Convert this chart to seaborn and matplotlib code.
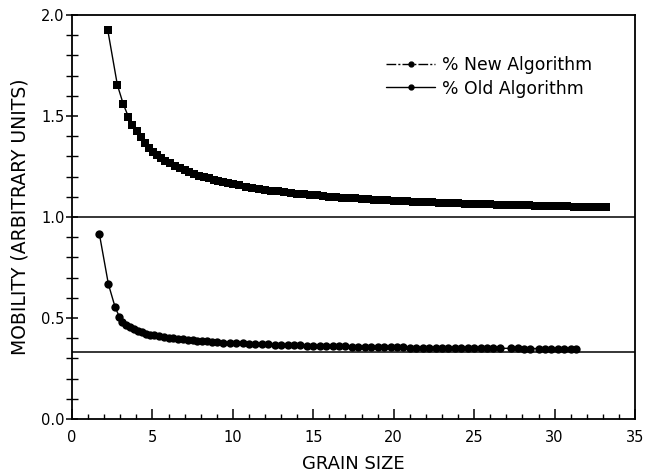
import numpy as np
import pandas as pd
import matplotlib
matplotlib.use("Agg")
import matplotlib.pyplot as plt
from matplotlib.lines import Line2D
from matplotlib.ticker import MultipleLocator, FormatStrFormatter
import seaborn as sns

# ---- data ----
new_x = [2.22, 2.82, 3.19, 3.50, 3.75, 4.02, 4.29, 4.55, 4.8, 5.05, 5.3, 5.55, 5.8,
         6.1, 6.4, 6.7, 7.0, 7.3, 7.6, 7.9, 8.2, 8.5, 8.8, 9.1, 9.4, 9.7, 10.0,
         10.4, 10.8, 11.2, 11.6, 12.0, 12.4, 12.8, 13.2, 13.6, 14.0, 14.4, 14.8,
         15.2, 15.6, 16.0, 16.4, 16.8, 17.2, 17.6, 18.0, 18.4, 18.8, 19.2, 19.6,
         20.0, 20.4, 20.8, 21.2, 21.6, 22.0, 22.4, 22.8, 23.2, 23.6, 24.0, 24.4,
         24.8, 25.2, 25.6, 26.0, 26.4, 26.8, 27.2, 27.6, 28.0, 28.4, 28.8, 29.2,
         29.6, 30.0, 30.4, 30.8, 31.2, 31.6, 32.0, 32.4, 32.8, 33.2]
new_y = [1.926, 1.653, 1.558, 1.497, 1.455, 1.427, 1.396, 1.368, 1.342, 1.323, 1.306,
         1.292, 1.279, 1.266, 1.253, 1.242, 1.231, 1.222, 1.213, 1.205, 1.198, 1.191,
         1.184, 1.178, 1.172, 1.167, 1.162, 1.156, 1.150, 1.145, 1.140, 1.135, 1.131,
         1.127, 1.123, 1.119, 1.116, 1.113, 1.109, 1.107, 1.104, 1.101, 1.099, 1.096,
         1.094, 1.092, 1.090, 1.088, 1.086, 1.084, 1.083, 1.081, 1.079, 1.078, 1.076,
         1.075, 1.074, 1.072, 1.071, 1.070, 1.069, 1.068, 1.066, 1.065, 1.064, 1.063,
         1.062, 1.061, 1.060, 1.060, 1.059, 1.058, 1.057, 1.056, 1.055, 1.055, 1.054,
         1.053, 1.053, 1.052, 1.051, 1.051, 1.050, 1.049, 1.049]

old_x = [1.70, 2.26, 2.67, 2.94, 3.10, 3.35, 3.6, 3.85, 4.1, 4.35, 4.6, 4.85, 5.1,
         5.4, 5.7, 6.0, 6.3, 6.6, 6.9, 7.2, 7.5, 7.8, 8.1, 8.4, 8.7, 9.0, 9.4, 9.8,
         10.2, 10.6, 11.0, 11.4, 11.8, 12.2, 12.6, 13.0, 13.4, 13.8, 14.2, 14.6,
         15.0, 15.4, 15.8, 16.2, 16.6, 17.0, 17.4, 17.8, 18.2, 18.6, 19.0, 19.4,
         19.8, 20.2, 20.6, 21.0, 21.4, 21.8, 22.2, 22.6, 23.0, 23.4, 23.8, 24.2,
         24.6, 25.0, 25.4, 25.8, 26.2, 26.6, 27.3, 27.7, 28.1, 28.5, 29.0, 29.4,
         29.8, 30.2, 30.6, 31.0, 31.3]
old_y = [0.916, 0.668, 0.556, 0.506, 0.482, 0.466, 0.454, 0.444, 0.436, 0.429, 0.423,
         0.418, 0.414, 0.410, 0.406, 0.403, 0.400, 0.397, 0.395, 0.392, 0.390, 0.388,
         0.386, 0.384, 0.382, 0.380, 0.378, 0.377, 0.375, 0.374, 0.372, 0.371, 0.370,
         0.369, 0.368, 0.367, 0.366, 0.365, 0.364, 0.363, 0.362, 0.362, 0.361, 0.360,
         0.360, 0.359, 0.358, 0.358, 0.357, 0.357, 0.356, 0.356, 0.356, 0.355, 0.355,
         0.354, 0.354, 0.354, 0.353, 0.353, 0.353, 0.352, 0.352, 0.352, 0.351, 0.351,
         0.351, 0.351, 0.350, 0.350, 0.350, 0.350, 0.349, 0.349, 0.349, 0.349, 0.348,
         0.348, 0.348, 0.348, 0.348]

ref_levels = [1.0, 1.0 / 3.0]
series_labels = ["% New Algorithm", "% Old Algorithm"]

# ---- styling ----
sns.set_style("white")
plt.rcParams["font.family"] = ["DejaVu Sans"]
plt.rcParams["text.color"] = "black"
plt.rcParams["axes.labelcolor"] = "black"
plt.rcParams["xtick.color"] = "black"
plt.rcParams["ytick.color"] = "black"

fig = plt.figure(figsize=(6.46, 4.76), dpi=100)
ax = fig.add_axes([0.1115, 0.1197, 0.8715, 0.8488])

df_new = pd.DataFrame({"x": new_x, "y": new_y})
df_old = pd.DataFrame({"x": old_x, "y": old_y})

sns.lineplot(data=df_new, x="x", y="y", ax=ax, color="black", linewidth=1.0,
             marker="s", markersize=5.6, markeredgewidth=0, sort=True,
             estimator=None, legend=False)
sns.lineplot(data=df_old, x="x", y="y", ax=ax, color="black", linewidth=1.0,
             marker="o", markersize=6.0, markeredgewidth=0, sort=True,
             estimator=None, legend=False)

for lv in ref_levels:
    ax.axhline(lv, color="black", linewidth=1.1)

ax.set_xlim(0, 35)
ax.set_ylim(0, 2.0)
ax.xaxis.set_major_locator(MultipleLocator(5))
ax.xaxis.set_minor_locator(MultipleLocator(1))
ax.yaxis.set_major_locator(MultipleLocator(0.5))
ax.yaxis.set_minor_locator(MultipleLocator(0.1))
ax.yaxis.set_major_formatter(FormatStrFormatter("%.1f"))

ax.tick_params(axis="x", which="major", direction="in", length=7, width=1.1,
               labelsize=10.5, pad=8, bottom=True, top=False, colors="black")
ax.tick_params(axis="x", which="minor", direction="in", length=3.5, width=1.0,
               bottom=True, top=False, colors="black")
ax.tick_params(axis="y", which="major", direction="inout", length=8, width=1.1,
               labelsize=10.5, pad=1.5, left=True, right=False, colors="black")
ax.tick_params(axis="y", which="minor", direction="inout", length=8, width=1.0,
               left=True, right=False, colors="black")

for sp in ax.spines.values():
    sp.set_visible(True)
    sp.set_color("black")
    sp.set_linewidth(1.3)

ax.set_xlabel("GRAIN SIZE", fontsize=13, labelpad=7, color="black")
ax.set_ylabel("MOBILITY (ARBITRARY UNITS)", fontsize=13.5, labelpad=8, color="black")

handles = [
    Line2D([], [], color="black", linewidth=1.0, linestyle=(0, (7, 1.5, 1.5, 1.5)),
           marker="o", markersize=3.5),
    Line2D([], [], color="black", linewidth=1.0, linestyle="-",
           marker="o", markersize=3.5),
]
leg = ax.legend(handles, series_labels, loc="upper right", bbox_to_anchor=(0.952, 0.936),
                frameon=False, fontsize=12.4, handlelength=2.9, handletextpad=0.4,
                labelspacing=0.3, borderpad=0.4)
for t in leg.get_texts():
    t.set_color("black")

fig.savefig("out.png", dpi=100)
